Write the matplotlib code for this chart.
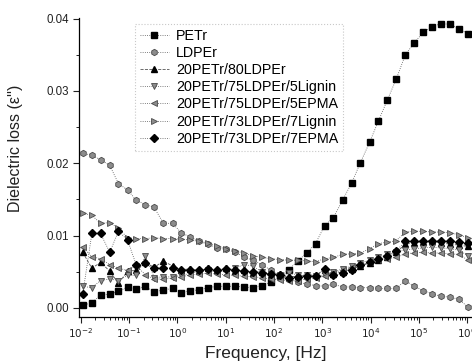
import matplotlib
matplotlib.use("Agg")
import numpy as np
from matplotlib import pyplot as plt
from matplotlib.ticker import FixedLocator, NullFormatter

plt.rcParams["font.family"] = ["Liberation Sans", "DejaVu Sans"]

# log10 of the measuring frequencies, Hz
log_freq = [-1.96, -1.77, -1.59, -1.40, -1.22, -1.03, -0.85, -0.66, -0.48, -0.29,
            -0.10, 0.08, 0.27, 0.45, 0.64, 0.82, 1.01, 1.19, 1.38, 1.56,
            1.75, 1.94, 2.12, 2.31, 2.49, 2.68, 2.86, 3.05, 3.23, 3.42,
            3.61, 3.79, 3.98, 4.16, 4.35, 4.53, 4.72, 4.90, 5.09, 5.27,
            5.46, 5.65, 5.83, 6.02]

petr = [0.0004, 0.0007, 0.0018, 0.0019, 0.0023, 0.0029, 0.0026, 0.0030, 0.0022, 0.0025,
        0.0027, 0.0021, 0.0024, 0.0025, 0.0028, 0.0030, 0.0030, 0.0030, 0.0029, 0.0028,
        0.0031, 0.0036, 0.0044, 0.0053, 0.0065, 0.0076, 0.0089, 0.0114, 0.0125, 0.0149,
        0.0173, 0.0201, 0.0229, 0.0258, 0.0288, 0.0316, 0.0350, 0.0366, 0.0381, 0.0389,
        0.0393, 0.0392, 0.0386, 0.0379]

ldper = [0.0214, 0.0211, 0.0205, 0.0197, 0.0172, 0.0163, 0.0149, 0.0143, 0.0139, 0.0117,
         0.0117, 0.0104, 0.0098, 0.0092, 0.0088, 0.0083, 0.0081, 0.0077, 0.0071, 0.0066,
         0.0060, 0.0052, 0.0045, 0.0040, 0.0036, 0.0033, 0.0031, 0.0030, 0.0033, 0.0029,
         0.0029, 0.0028, 0.0028, 0.0027, 0.0027, 0.0027, 0.0038, 0.0030, 0.0024, 0.0020,
         0.0016, 0.0015, 0.0012, 0.0001]

blend_80 = [0.0077, 0.0055, 0.0063, 0.0051, 0.0034, 0.0051, 0.0052, 0.0063, 0.0056, 0.0065,
            0.0058, 0.0053, 0.0054, 0.0051, 0.0055, 0.0052, 0.0055, 0.0051, 0.0052, 0.0049,
            0.0050, 0.0046, 0.0047, 0.0043, 0.0044, 0.0045, 0.0046, 0.0052, 0.0047, 0.0050,
            0.0054, 0.0058, 0.0062, 0.0066, 0.0071, 0.0077, 0.0088, 0.0090, 0.0091, 0.0092,
            0.0090, 0.0088, 0.0087, 0.0085]

lignin_5 = [0.0030, 0.0028, 0.0038, 0.0040, 0.0038, 0.0045, 0.0045, 0.0072, 0.0042, 0.0043,
            0.0043, 0.0045, 0.0048, 0.0050, 0.0052, 0.0050, 0.0051, 0.0055, 0.0060, 0.0058,
            0.0050, 0.0047, 0.0045, 0.0048, 0.0046, 0.0045, 0.0044, 0.0045, 0.0050, 0.0054,
            0.0058, 0.0062, 0.0066, 0.0070, 0.0074, 0.0078, 0.0080, 0.0082, 0.0083, 0.0084,
            0.0083, 0.0082, 0.0080, 0.0072]

epma_5 = [0.0084, 0.0071, 0.0068, 0.0060, 0.0055, 0.0052, 0.0058, 0.0046, 0.0040, 0.0040,
          0.0041, 0.0043, 0.0046, 0.0047, 0.0048, 0.0047, 0.0046, 0.0045, 0.0044, 0.0043,
          0.0042, 0.0040, 0.0039, 0.0037, 0.0038, 0.0040, 0.0042, 0.0044, 0.0048, 0.0052,
          0.0056, 0.0060, 0.0063, 0.0066, 0.0068, 0.0070, 0.0075, 0.0076, 0.0077, 0.0076,
          0.0076, 0.0075, 0.0074, 0.0066]

lignin_7 = [0.0131, 0.0128, 0.0117, 0.0118, 0.0110, 0.0097, 0.0096, 0.0096, 0.0097, 0.0096,
            0.0096, 0.0095, 0.0094, 0.0092, 0.0090, 0.0086, 0.0082, 0.0079, 0.0076, 0.0072,
            0.0070, 0.0068, 0.0067, 0.0066, 0.0066, 0.0065, 0.0064, 0.0068, 0.0070, 0.0074,
            0.0075, 0.0076, 0.0082, 0.0089, 0.0091, 0.0093, 0.0105, 0.0106, 0.0106, 0.0105,
            0.0105, 0.0104, 0.0101, 0.0097]

epma_7 = [0.0019, 0.0103, 0.0103, 0.0077, 0.0106, 0.0094, 0.0059, 0.0062, 0.0055, 0.0055,
          0.0055, 0.0052, 0.0053, 0.0052, 0.0054, 0.0053, 0.0054, 0.0052, 0.0051, 0.0050,
          0.0049, 0.0047, 0.0046, 0.0042, 0.0043, 0.0044, 0.0044, 0.0054, 0.0045, 0.0048,
          0.0053, 0.0059, 0.0063, 0.0068, 0.0072, 0.0079, 0.0092, 0.0092, 0.0093, 0.0093,
          0.0093, 0.0092, 0.0091, 0.0090]

labels = ["PETr", "LDPEr", "20PETr/80LDPEr", "20PETr/75LDPEr/5Lignin",
          "20PETr/75LDPEr/5EPMA", "20PETr/73LDPEr/7Lignin", "20PETr/73LDPEr/7EPMA"]

x_decades = [-2, -1, 0, 1, 2, 3, 4, 5, 6]
y_major = [0.0, 0.01, 0.02, 0.03, 0.04]

freq = 10.0 ** np.array(log_freq)

fig = plt.figure(figsize=(4.72, 3.64), dpi=100)
ax = fig.add_axes([0.167, 0.130, 0.833, 0.821])

black = dict(mfc="black", mec="black")
grey = dict(mfc="#8c8c8c", mec="#4a4a4a", mew=0.6)
series = [
    (petr, "s", 4.2, black, ":"),
    (ldper, "h", 4.6, grey, ":"),
    (blend_80, "^", 5.0, black, "--"),
    (lignin_5, "v", 5.0, grey, ":"),
    (epma_5, "<", 5.0, grey, ":"),
    (lignin_7, ">", 5.0, grey, ":"),
    (epma_7, "D", 4.4, black, ":"),
]
for (vals, mk, ms, style, ls), lab in zip(series, labels):
    ax.plot(freq, vals, linestyle=ls, lw=0.6, color="#555555", marker=mk,
            ms=ms, label=lab, **style)

ax.set_xscale("log")
ax.set_xlim(10 ** -2.04, 10 ** 6.1)
ax.set_ylim(-0.0012, 0.0401)

ax.xaxis.set_major_locator(FixedLocator([10.0 ** d for d in x_decades]))
ax.xaxis.set_minor_locator(FixedLocator(
    [m * 10.0 ** d for d in x_decades[:-1] for m in range(2, 10)]))
ax.xaxis.set_minor_formatter(NullFormatter())
ax.xaxis.set_major_formatter(plt.FuncFormatter(
    lambda v, p: "$10^{%d}$" % round(np.log10(v))))
ax.yaxis.set_major_locator(FixedLocator(y_major))
ax.yaxis.set_minor_locator(FixedLocator([0.005, 0.015, 0.025, 0.035]))
ax.yaxis.set_major_formatter(plt.FuncFormatter(lambda v, p: f"{v:.2f}"))

ax.tick_params(which="major", direction="out", length=4, width=0.8, colors="#222222")
ax.tick_params(which="minor", direction="out", length=2.2, width=0.6)
ax.tick_params(axis="x", labelsize=7.5, pad=3)
ax.tick_params(axis="y", labelsize=8.3, pad=3)
for side in ("top", "right"):
    ax.spines[side].set_visible(False)
for side in ("left", "bottom"):
    ax.spines[side].set_linewidth(0.9)

fig.text(0.032, 0.593, "Dielectric loss (ε'')", rotation=90, ha="center",
         va="center", fontsize=11.5, color="#222222")
fig.text(0.563, 0.030, "Frequency, [Hz]", ha="center", va="center",
         fontsize=12.5, color="#222222")

leg = ax.legend(loc="upper left", bbox_to_anchor=(0.143, 0.98), fontsize=10.3,
                frameon=True, fancybox=False, handlelength=2.0, handletextpad=0.5,
                labelspacing=0.22, borderpad=0.35, borderaxespad=0)
leg.get_frame().set_edgecolor("#bbbbbb")
leg.get_frame().set_linestyle(":")
leg.get_frame().set_linewidth(0.8)

fig.savefig("out.png", dpi=100)
